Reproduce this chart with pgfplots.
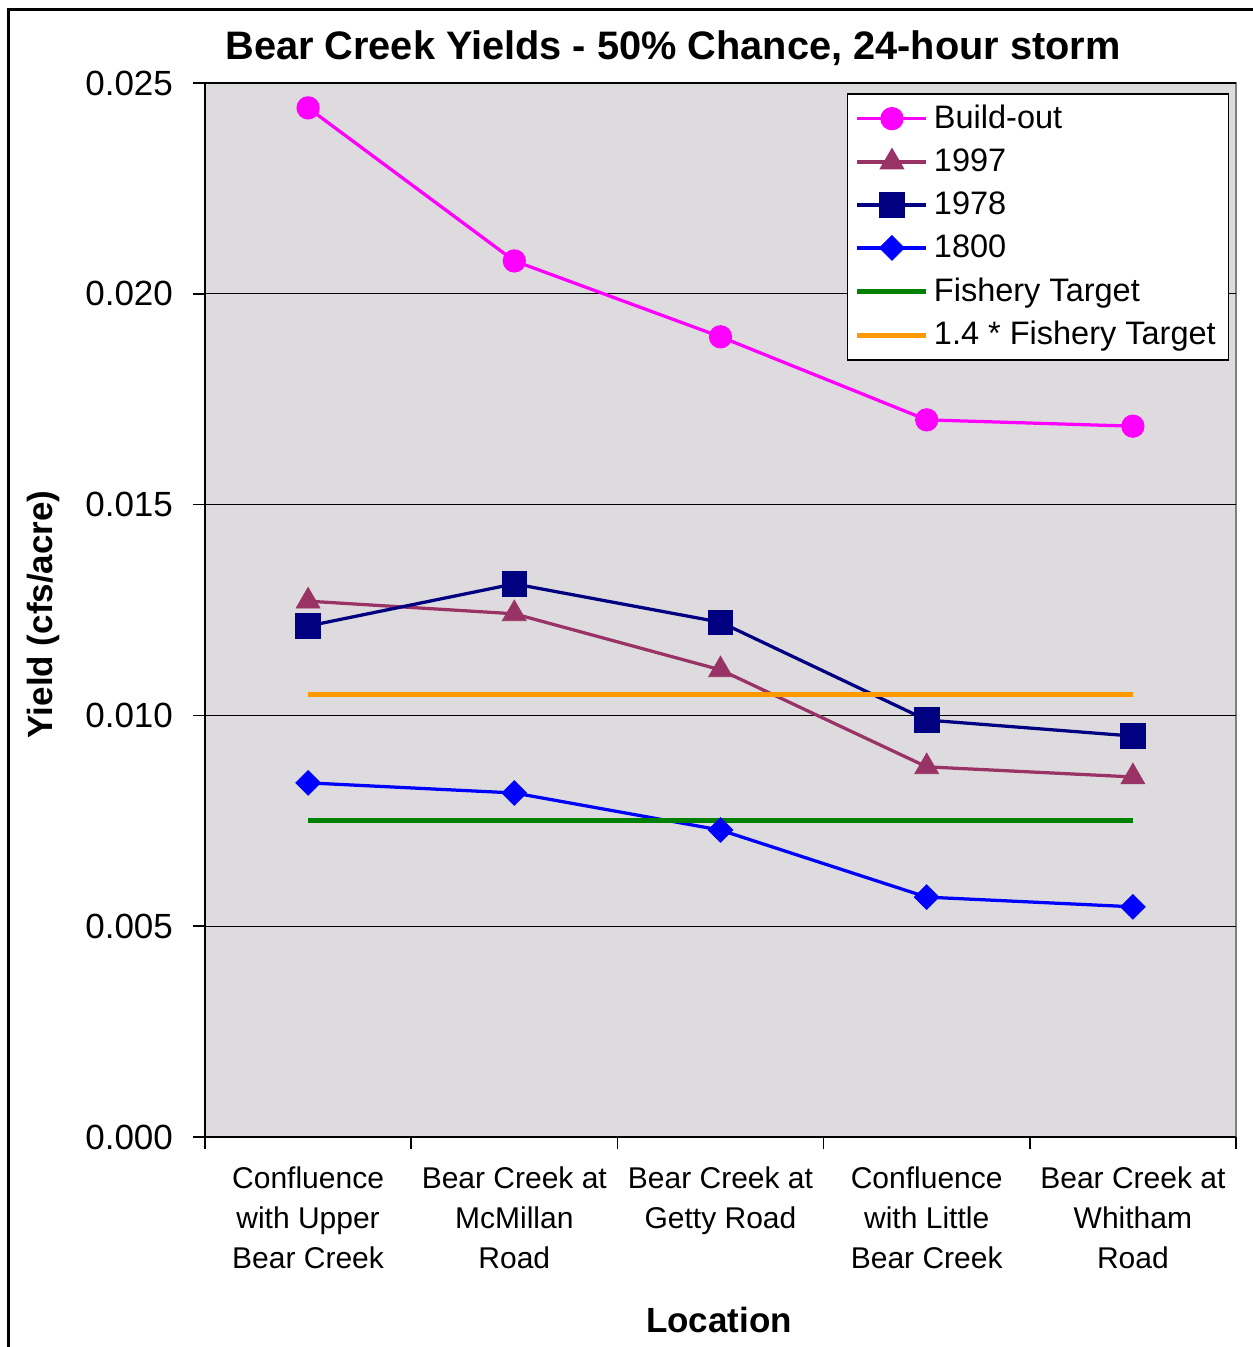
\documentclass[border=0pt]{standalone}
\usepackage{pgfplots}
\pgfplotsset{compat=1.18}
\usepackage{fontspec}
\setmainfont{Liberation Sans}
\definecolor{plotgray}{RGB}{221,219,221}
\definecolor{buildout}{RGB}{255,0,255}
\definecolor{plum}{RGB}{153,51,102}
\definecolor{navy}{RGB}{0,0,128}
\definecolor{blue1800}{RGB}{0,0,255}
\definecolor{fishgreen}{RGB}{0,128,0}
\definecolor{fishorange}{RGB}{255,153,0}
\begin{document}
\begin{tikzpicture}
\useasboundingbox (-82pt,-84pt) rectangle (419.2pt,454.8pt);
\draw[line width=1.2pt] (-78.4pt,-90pt) -- (-78.4pt,450.8pt) -- (430pt,450.8pt);
\begin{axis}[
  scale only axis,
  width=412.4pt, height=421.6pt,
  xmin=-0.5, xmax=4.5,
  ymin=0, ymax=0.025,
  axis lines=left,
  axis line style={-, line width=0.7pt, black},
  axis background/.style={fill=plotgray, draw=gray, line width=0.6pt},
  tick align=outside,
  major tick length=0pt,
  minor tick length=4.8pt,
  every minor tick/.style={black, line width=0.7pt},
  xtick={0,1,2,3,4},
  minor xtick={-0.5,0.5,1.5,2.5,3.5,4.5},
  xticklabels={Confluence\\with Upper\\Bear Creek, Bear Creek at\\McMillan\\Road, Bear Creek at\\Getty Road, Confluence\\with Little\\Bear Creek, Bear Creek at\\Whitham\\Road},
  xticklabel style={align=center, font=\fontsize{12}{16}\selectfont, yshift=-8.5pt},
  ytick={0,0.005,0.01,0.015,0.02,0.025},
  minor ytick={0,0.005,0.01,0.015,0.02,0.025},
  scaled y ticks=false,
  yticklabel style={font=\fontsize{14}{16}\selectfont, xshift=-9.3pt, /pgf/number format/.cd, fixed, fixed zerofill, precision=3, assume math mode=true},
  ymajorgrids,
  major grid style={black, line width=0.5pt},
  title={Bear Creek Yields - 50\% Chance, 24-hour storm},
  title style={at={(axis description cs:0.454,1)}, anchor=base, yshift=3.6pt, font=\fontsize{15.9}{18}\bfseries\selectfont},
  xlabel={Location},
  ylabel={Yield (cfs/acre)},
  every axis x label/.style={at={(axis description cs:0.4985,-0.1736)}, anchor=center, font=\fontsize{14}{16}\bfseries\selectfont},
  every axis y label/.style={at={(axis description cs:-0.157,0.496)}, anchor=center, rotate=90, font=\fontsize{14}{16}\bfseries\selectfont},
  legend style={at={(axis description cs:1,1)}, anchor=north east, xshift=-2.8pt, yshift=-4pt, draw=black, fill=white, line width=0.6pt, font=\fontsize{13}{15}\selectfont, row sep=2.6pt, inner xsep=3pt, inner ysep=2.5pt},
  legend cell align=left,
  legend image code/.code={\draw[mark repeat=2,mark phase=2,#1] plot coordinates {(0pt,0pt)(13.8pt,0pt)(27.6pt,0pt)};},
]
\addplot[color=buildout, line width=1.3pt, mark=*, mark size=4pt, mark options={solid, fill=buildout}] coordinates {(0,0.02441) (1,0.02078) (2,0.01898) (3,0.01701) (4,0.01686)};
\addlegendentry{Build-out}
\addplot[color=plum, line width=1.3pt, mark=triangle*, mark size=5.5pt, mark options={solid, fill=plum, line width=0.3pt}] coordinates {(0,0.01271) (1,0.01241) (2,0.01108) (3,0.00878) (4,0.00854)};
\addlegendentry{1997}
\addplot[color=navy, line width=1.3pt, mark=square*, mark size=4.9pt, mark options={solid, fill=navy, line width=0.3pt}] coordinates {(0,0.01212) (1,0.01312) (2,0.01221) (3,0.00989) (4,0.00951)};
\addlegendentry{1978}
\addplot[color=blue1800, line width=1.3pt, mark=square*, mark size=3.5pt, mark options={solid, fill=blue1800, rotate=45, line width=0.3pt}] coordinates {(0,0.0084) (1,0.00816) (2,0.00728) (3,0.00569) (4,0.00546)};
\addlegendentry{1800}
\addplot[color=fishgreen, line width=2pt, no marks] coordinates {(0,0.0075) (1,0.0075) (2,0.0075) (3,0.0075) (4,0.0075)};
\addlegendentry{Fishery Target}
\addplot[color=fishorange, line width=2pt, no marks] coordinates {(0,0.0105) (1,0.0105) (2,0.0105) (3,0.0105) (4,0.0105)};
\addlegendentry{1.4 * Fishery Target}
\end{axis}
\end{tikzpicture}
\end{document}
